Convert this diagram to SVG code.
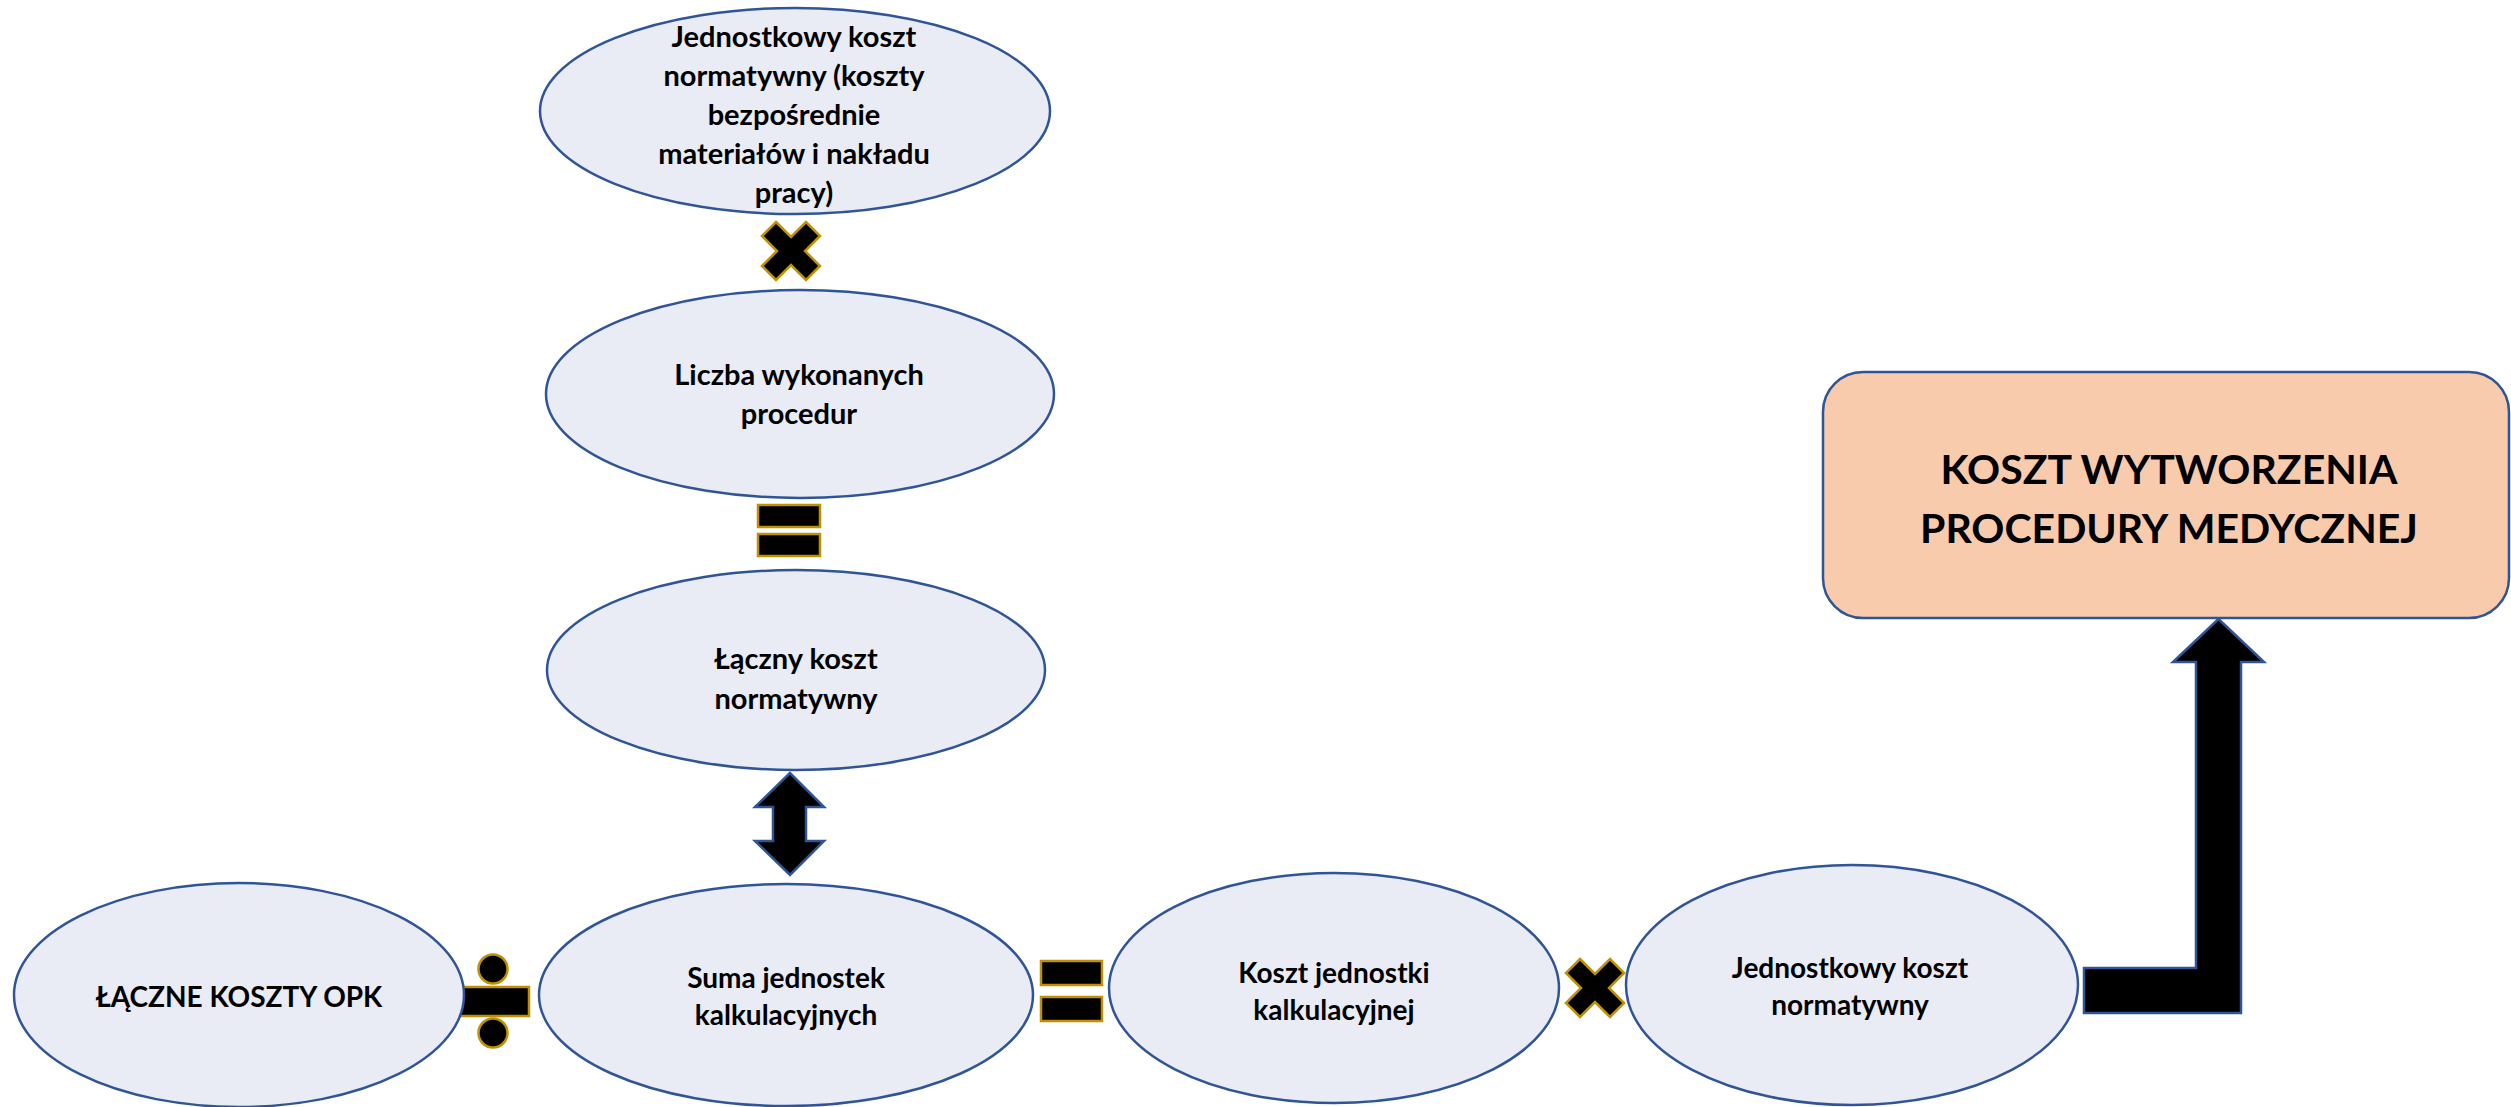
<svg xmlns="http://www.w3.org/2000/svg" width="2511" height="1107" viewBox="0 0 2511 1107">
<style>
.node ellipse{fill:#E9EBF5;stroke:#2F5597;stroke-width:2.5}
.box{fill:#F8CBAD;stroke:#2F5597;stroke-width:2.5}
text{font-family:Lato,"Liberation Sans",sans-serif;font-weight:bold;fill:#000;text-anchor:middle}
.t{font-size:29px}
.tb{font-size:28px}
.big{font-size:41px}
.op{fill:#000;stroke:#BF9000;stroke-width:2.5}
.arr{fill:#000;stroke:#2F5597;stroke-width:2.5}
</style>
<defs>
<polygon id="times" points="-15,-29 0,-14 15,-29 29,-15 14,0 29,15 15,29 0,14 -15,29 -29,15 -14,0 -29,-15"/>
</defs>
<rect width="2511" height="1107" fill="#fff"/>
<g id="connectors">
<use href="#times" class="op" x="791" y="251"/>
<rect class="op" x="758" y="505" width="62" height="22"/>
<rect class="op" x="758" y="534" width="62" height="22"/>
<polygon class="arr" points="790,773 755,807 773,807 773,841 755,841 790,875 824,841 806,841 806,807 824,807"/>
<circle class="op" cx="493" cy="969" r="14.5"/>
<rect class="op" x="457" y="987" width="72" height="29"/>
<circle class="op" cx="493" cy="1033" r="14.5"/>
<rect class="op" x="1041" y="961" width="61" height="24"/>
<rect class="op" x="1041" y="997" width="61" height="24"/>
<use href="#times" class="op" x="1595" y="988"/>
<polygon class="arr" points="2084,968 2196,968 2196,662 2173,662 2218.5,619 2264,662 2241,662 2241,1013 2084,1013"/>
</g>
<g id="n1" class="node">
<ellipse cx="795" cy="111" rx="255" ry="103"/>
<text class="t" x="794"><tspan x="794" y="47">Jednostkowy koszt</tspan><tspan x="794" y="86">normatywny (koszty</tspan><tspan x="794" y="125">bezpośrednie</tspan><tspan x="794" y="164">materiałów i nakładu</tspan><tspan x="794" y="203">pracy)</tspan></text>
</g>
<g id="n2" class="node">
<ellipse cx="800" cy="394" rx="254" ry="104"/>
<text class="t"><tspan x="799" y="385">Liczba wykonanych</tspan><tspan x="799" y="424">procedur</tspan></text>
</g>
<g id="n3" class="node">
<ellipse cx="796" cy="670" rx="249" ry="100"/>
<text class="t"><tspan x="796" y="669">Łączny koszt</tspan><tspan x="796" y="709">normatywny</tspan></text>
</g>
<g id="n4" class="node">
<ellipse cx="239" cy="995" rx="225" ry="112"/>
<text class="tb" x="239" y="1007">ŁĄCZNE KOSZTY OPK</text>
</g>
<g id="n5" class="node">
<ellipse cx="786" cy="995" rx="247" ry="111"/>
<text class="tb"><tspan x="786" y="988">Suma jednostek</tspan><tspan x="786" y="1025">kalkulacyjnych</tspan></text>
</g>
<g id="n6" class="node">
<ellipse cx="1334" cy="988" rx="225" ry="115"/>
<text class="tb"><tspan x="1334" y="983">Koszt jednostki</tspan><tspan x="1334" y="1020">kalkulacyjnej</tspan></text>
</g>
<g id="n7" class="node">
<ellipse cx="1852" cy="985" rx="226" ry="120"/>
<text class="tb"><tspan x="1850" y="978">Jednostkowy koszt</tspan><tspan x="1850" y="1015">normatywny</tspan></text>
</g>
<g id="n8">
<rect class="box" x="1823" y="372" width="686" height="246" rx="40" ry="40"/>
<text class="big"><tspan x="2169" y="484">KOSZT WYTWORZENIA</tspan><tspan x="2169" y="543">PROCEDURY MEDYCZNEJ</tspan></text>
</g>
</svg>
